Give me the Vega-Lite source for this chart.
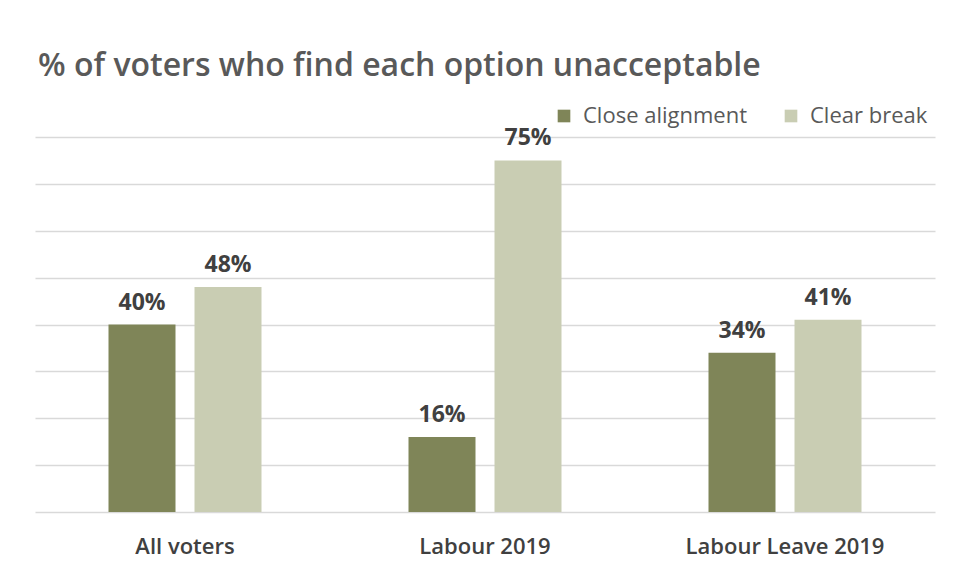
{
  "$schema": "https://vega.github.io/schema/vega-lite/v6.json",
  "width": 900,
  "height": 375,
  "autosize": {"type": "none"},
  "padding": {"left": 35, "top": 137, "right": 23, "bottom": 70},
  "background": "white",
  "title": {
    "text": "% of voters who find each option unacceptable",
    "anchor": "start",
    "offset": 22,
    "dx": 3,
    "font": "Open Sans",
    "fontSize": 32,
    "fontWeight": 600,
    "color": "#595959",
    "limit": 900
  },
  "data": {
    "values": [
      {"group": "All voters", "option": "Close alignment", "pct": 0.40},
      {"group": "All voters", "option": "Clear break", "pct": 0.48},
      {"group": "Labour 2019", "option": "Close alignment", "pct": 0.16},
      {"group": "Labour 2019", "option": "Clear break", "pct": 0.75},
      {"group": "Labour Leave 2019", "option": "Close alignment", "pct": 0.34},
      {"group": "Labour Leave 2019", "option": "Clear break", "pct": 0.41}
    ]
  },
  "encoding": {
    "x": {
      "field": "group",
      "type": "nominal",
      "sort": null,
      "scale": {"paddingInner": 0.49, "paddingOuter": 0.245},
      "axis": {
        "title": null,
        "labelAngle": 0,
        "ticks": false,
        "domain": false,
        "labelPadding": 24,
        "labelLimit": 400,
        "labelFont": "Open Sans",
        "labelFontSize": 22,
        "labelFontWeight": 600,
        "labelColor": "#404040"
      }
    },
    "xOffset": {
      "field": "option",
      "type": "nominal",
      "sort": ["Close alignment", "Clear break"],
      "scale": {"paddingInner": 0.221, "paddingOuter": 0}
    },
    "y": {
      "field": "pct",
      "type": "quantitative",
      "scale": {"domain": [0, 0.8], "nice": false},
      "axis": {
        "title": null,
        "labels": false,
        "ticks": false,
        "domain": false,
        "values": [0, 0.1, 0.2, 0.3, 0.4, 0.5, 0.6, 0.7, 0.8],
        "gridColor": "#D9D9D9",
        "gridWidth": 1.5
      }
    }
  },
  "layer": [
    {
      "mark": {"type": "bar"},
      "encoding": {
        "color": {
          "field": "option",
          "type": "nominal",
          "sort": ["Close alignment", "Clear break"],
          "scale": {"domain": ["Close alignment", "Clear break"], "range": ["#7F8558", "#C9CDB3"]},
          "legend": {
            "title": null,
            "orient": "none",
            "legendX": 518,
            "legendY": -32,
            "direction": "horizontal",
            "symbolType": "square",
            "symbolSize": 160,
            "symbolStrokeWidth": 0,
            "labelFont": "Open Sans",
            "labelFontSize": 22,
            "labelColor": "#595959",
            "labelLimit": 400,
            "columnPadding": 32,
            "labelOffset": 8
          }
        }
      }
    },
    {
      "mark": {"type": "text", "dy": -15, "baseline": "alphabetic", "font": "Open Sans", "fontSize": 23, "fontWeight": "bold", "color": "#404040"},
      "encoding": {
        "text": {"field": "pct", "type": "quantitative", "format": ".0%"},
        "detail": {"field": "option"}
      }
    }
  ],
  "config": {
    "view": {"stroke": null}
  }
}
